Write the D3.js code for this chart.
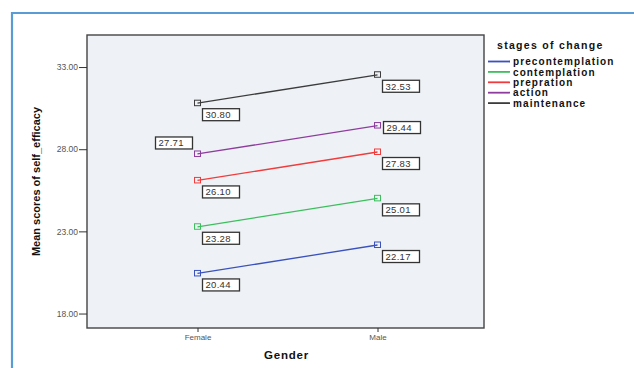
<!DOCTYPE html>
<html><head><meta charset="utf-8">
<script src="https://cdn.jsdelivr.net/npm/d3@7"></script>
<style>
html,body{margin:0;padding:0;background:#fff;}
svg{display:block;font-family:"Liberation Sans",Arial,sans-serif;}
</style></head>
<body>
<script>
const genders = ["Female", "Male"];
const stages = ["precontemplation", "contemplation", "prepration", "action", "maintenance"];
const femaleMeans = [20.44, 23.28, 26.10, 27.71, 30.80];
const maleMeans = [22.17, 25.01, 27.83, 29.44, 32.53];
const yTicks = [18, 23, 28, 33];
const stageColors = ["#3b52bd", "#3cbf5c", "#f03c3c", "#8e3d9e", "#3c3c3c"];
// label placement keyword per stage: [female, male]
const labelPlace = [["below","below"],["below","below"],["below","below"],["leftAbove","right"],["below","below"]];

const W = 634, H = 368;
const svg = d3.select("body").append("svg").attr("width", W).attr("height", H);

// outer blue frame
svg.append("path").attr("d", `M12,${H} V13 H${W}`).attr("fill","none")
  .attr("stroke","#5b9bd5").attr("stroke-width",2.2);

const plot = {l: 87, t: 35, r: 484, b: 328};
const x = d3.scalePoint().domain(genders).range([197.5, 377.5]);
const y = d3.scaleLinear().domain([17.12, 34.95]).range([plot.b, plot.t]);

svg.append("rect").attr("x", plot.l).attr("y", plot.t)
  .attr("width", plot.r - plot.l).attr("height", plot.b - plot.t)
  .attr("fill", "#eef2f6").attr("stroke", "#444").attr("stroke-width", 1.4);

// y axis
const yAxis = svg.append("g").attr("transform", `translate(${plot.l},0)`)
  .call(d3.axisLeft(y).tickValues(yTicks).tickFormat(d3.format(".2f")).tickSize(8).tickSizeOuter(0));
yAxis.select(".domain").remove();
yAxis.selectAll(".tick line").attr("stroke", "#333").attr("stroke-width", 1);
yAxis.selectAll(".tick text").attr("fill", "#555").attr("font-size", 8.5).attr("x", -9)
  .attr("font-family", "Liberation Sans, Arial, sans-serif");

// x axis
const xAxis = svg.append("g").attr("transform", `translate(0,${plot.b})`)
  .call(d3.axisBottom(x).tickSize(4).tickSizeOuter(0));
xAxis.select(".domain").remove();
xAxis.selectAll(".tick line").attr("stroke", "#333");
xAxis.selectAll(".tick text").attr("fill", "#555").attr("font-size", 8).attr("y", 6)
  .attr("font-family", "Liberation Sans, Arial, sans-serif");

// axis titles
svg.append("text").attr("x", (plot.l + plot.r) / 2 + 1).attr("y", 359)
  .attr("text-anchor", "middle").attr("font-weight", "bold").attr("font-size", 11.5)
  .attr("letter-spacing", 0.8).attr("fill", "#111").text("Gender");
svg.append("text").attr("transform", `translate(40,${(plot.t + plot.b) / 2}) rotate(-90)`)
  .attr("text-anchor", "middle").attr("font-weight", "bold").attr("font-size", 11)
  .attr("font-family", "Liberation Sans Narrow, Liberation Sans, Arial, sans-serif")
  .attr("fill", "#111").text("Mean scores of self_efficacy");

// series
const series = stages.map((s, i) => ({
  name: s, color: stageColors[i], place: labelPlace[i],
  values: genders.map((g, j) => ({g, v: j === 0 ? femaleMeans[i] : maleMeans[i], place: labelPlace[i][j]}))
}));

const line = d3.line().x(d => x(d.g)).y(d => y(d.v));
const sg = svg.append("g").selectAll("g").data(series).join("g");
sg.append("path").attr("d", d => line(d.values)).attr("fill", "none")
  .attr("stroke", d => d.color).attr("stroke-width", 1.3);
sg.selectAll("rect.m").data(d => d.values.map(v => ({...v, color: d.color}))).join("rect")
  .attr("class", "m")
  .attr("x", d => x(d.g) - 3).attr("y", d => y(d.v) - 3)
  .attr("width", 6).attr("height", 5.5)
  .attr("fill", "none").attr("stroke", d => d.color).attr("stroke-width", 1);

// value labels
const bw = 37, bh = 12;
const lab = svg.append("g").selectAll("g").data(series.flatMap(s => s.values)).join("g")
  .attr("transform", d => {
    const cx = x(d.g), cy = y(d.v);
    let bx, by;
    if (d.place === "leftAbove") { bx = cx - 5 - bw; by = cy - 5 - bh; }
    else if (d.place === "right") { bx = cx + 6; by = cy - 4; }
    else { bx = cx + 5; by = cy + 5.5; }
    return `translate(${bx},${by})`;
  });
lab.append("rect").attr("width", bw).attr("height", bh).attr("fill", "#fff")
  .attr("stroke", "#333").attr("stroke-width", 1.3);
lab.append("text").attr("x", 3).attr("y", 9.5).attr("font-size", 9.5).attr("fill", "#333")
  .attr("letter-spacing", 0.3)
  .text(d => d3.format(".2f")(d.v));

// legend
const leg = svg.append("g").attr("transform", "translate(488,0)");
leg.append("text").attr("x", 9).attr("y", 49).attr("font-weight", "bold").attr("font-size", 10.5)
  .attr("letter-spacing", 1.3).attr("fill", "#111").text("stages of change");
const li = leg.selectAll("g.li").data(series).join("g").attr("class", "li")
  .attr("transform", (d, i) => `translate(0,${61.5 + i * 10.4})`);
li.append("line").attr("x1", 0).attr("x2", 22).attr("stroke", d => d.color).attr("stroke-width", 1.8);
li.append("text").attr("x", 25).attr("y", 3.6).attr("font-weight", "bold").attr("font-size", 10)
  .attr("letter-spacing", 1.1).attr("fill", "#111").text(d => d.name);
</script>
</body></html>
